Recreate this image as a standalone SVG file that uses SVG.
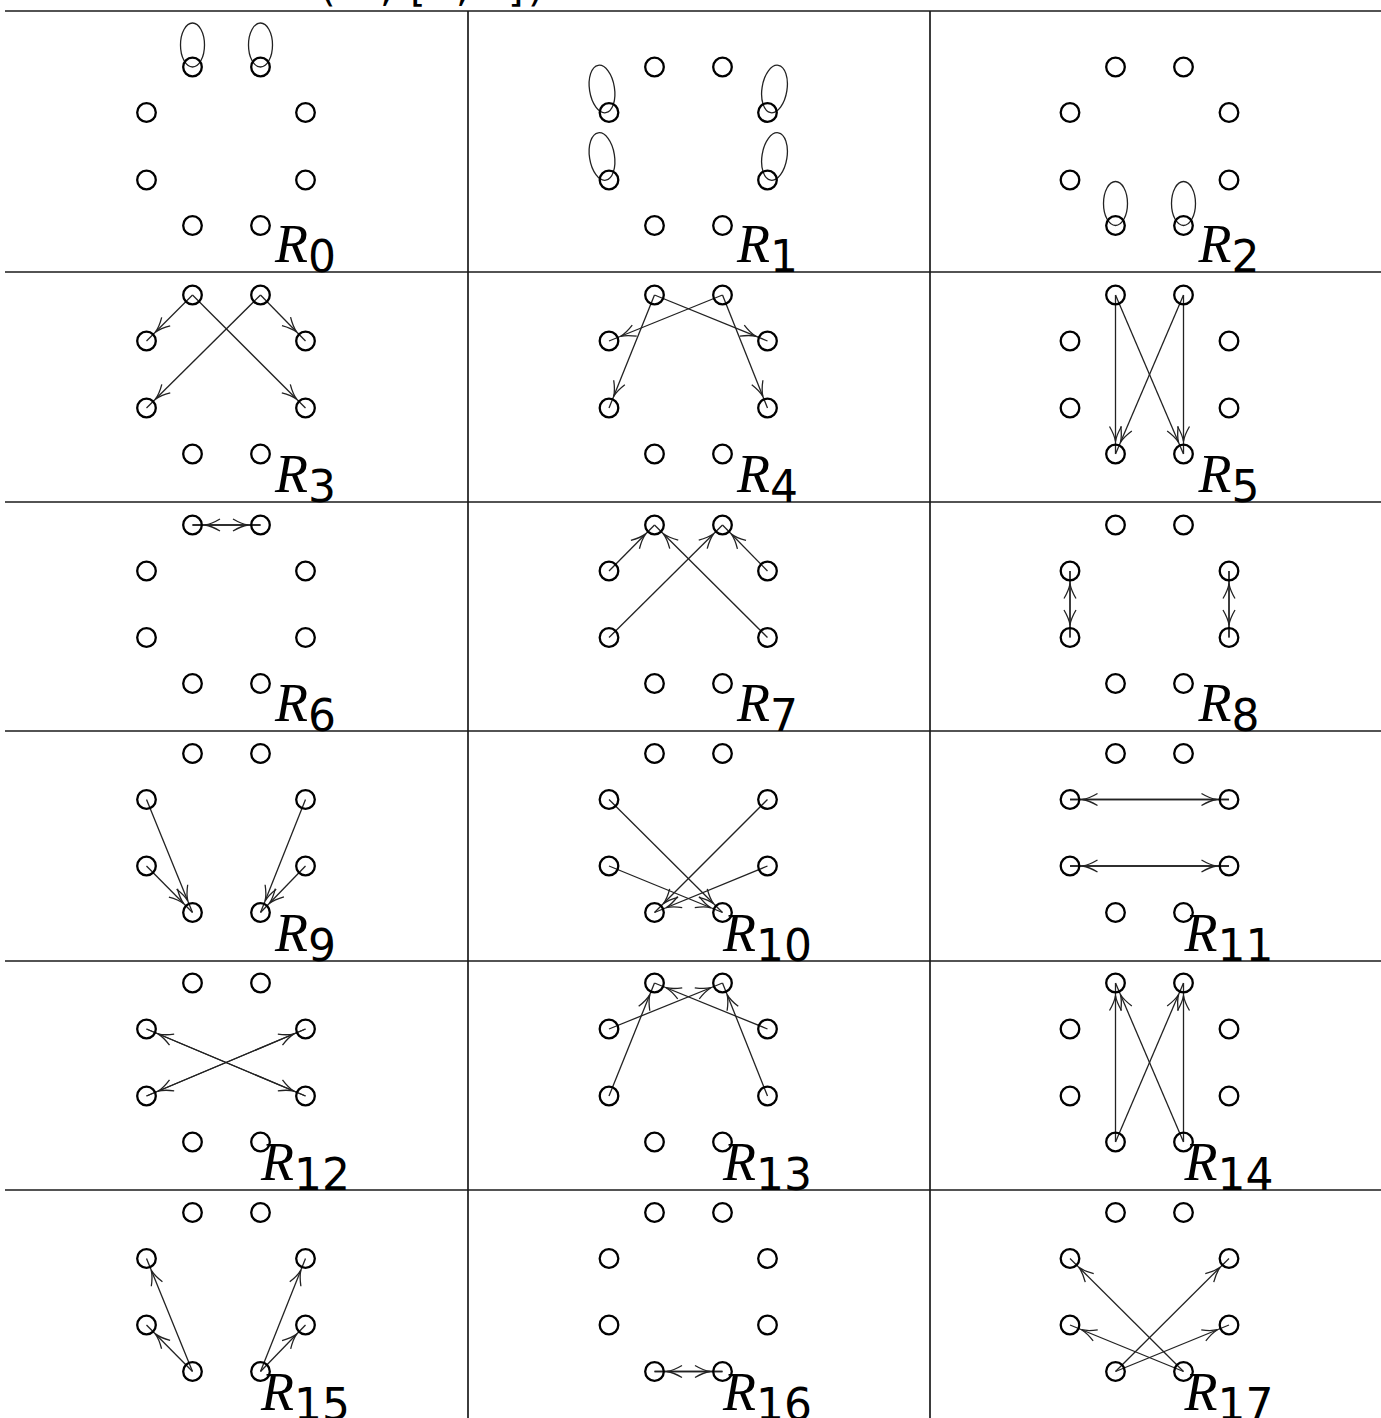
<svg xmlns="http://www.w3.org/2000/svg" width="1381" height="1418" viewBox="0 0 1381 1418">
<style>
.grid{stroke:#1a1a1a;stroke-width:1.7;fill:none}
.nd{fill:none;stroke:#000;stroke-width:2.3}
.lp{fill:none;stroke:#222;stroke-width:1.3}
.e{stroke:#222;stroke-width:1.3;fill:none;marker-end:url(#ah)}
.lbl{font-size:54px;fill:#000}
.r{font-family:"Liberation Serif",serif;font-style:italic}
.s{font-family:"DejaVu Sans",sans-serif;font-size:44px}
.ttl{font-family:"DejaVu Sans",sans-serif;font-size:40px;fill:#000}
</style>
<defs>
<marker id="ah" markerUnits="userSpaceOnUse" orient="auto" markerWidth="40" markerHeight="20" refX="30" refY="10">
<path d="M2.5,4 Q11,9 17.5,10 Q11,11 2.5,16" fill="none" stroke="#222" stroke-width="1.3"/>
</marker>
</defs>
<rect width="1381" height="1418" fill="#fff"/>
<text class="ttl" y="0.5"><tspan x="320">(</tspan><tspan x="380">,</tspan><tspan x="410">[</tspan><tspan x="456">,</tspan><tspan x="508">]</tspan><tspan x="528">)</tspan></text>
<g id="grid">
<line class="grid" x1="5" y1="11" x2="1381" y2="11"/>
<line class="grid" x1="5" y1="272" x2="1381" y2="272"/>
<line class="grid" x1="5" y1="502" x2="1381" y2="502"/>
<line class="grid" x1="5" y1="731" x2="1381" y2="731"/>
<line class="grid" x1="5" y1="961" x2="1381" y2="961"/>
<line class="grid" x1="5" y1="1190" x2="1381" y2="1190"/>
<line class="grid" x1="468" y1="11" x2="468" y2="1418"/>
<line class="grid" x1="930" y1="11" x2="930" y2="1418"/>
</g>
<g id="loops">
<ellipse class="lp" cx="192.5" cy="45" rx="12" ry="22"/>
<ellipse class="lp" cx="260.5" cy="45" rx="12" ry="22"/>
<ellipse class="lp" cx="602" cy="89" rx="12.5" ry="24" transform="rotate(-9 602 89)"/>
<ellipse class="lp" cx="602" cy="156.5" rx="12.5" ry="24" transform="rotate(-9 602 156.5)"/>
<ellipse class="lp" cx="774.5" cy="89" rx="12.5" ry="24" transform="rotate(9 774.5 89)"/>
<ellipse class="lp" cx="774.5" cy="156.5" rx="12.5" ry="24" transform="rotate(9 774.5 156.5)"/>
<ellipse class="lp" cx="1115.5" cy="203.5" rx="12" ry="22"/>
<ellipse class="lp" cx="1183.5" cy="203.5" rx="12" ry="22"/>
</g>
<g id="connectors">
<line class="e" x1="192.5" y1="295" x2="146.5" y2="341"/>
<line class="e" x1="192.5" y1="295" x2="305.5" y2="408"/>
<line class="e" x1="260.5" y1="295" x2="305.5" y2="341"/>
<line class="e" x1="260.5" y1="295" x2="146.5" y2="408"/>
<line class="e" x1="654.5" y1="295" x2="609" y2="408"/>
<line class="e" x1="654.5" y1="295" x2="767.5" y2="341"/>
<line class="e" x1="722.5" y1="295" x2="609" y2="341"/>
<line class="e" x1="722.5" y1="295" x2="767.5" y2="408"/>
<line class="e" x1="1115.5" y1="295" x2="1115.5" y2="454"/>
<line class="e" x1="1115.5" y1="295" x2="1183.5" y2="454"/>
<line class="e" x1="1183.5" y1="295" x2="1115.5" y2="454"/>
<line class="e" x1="1183.5" y1="295" x2="1183.5" y2="454"/>
<line class="e" x1="192.5" y1="525" x2="260.5" y2="525"/>
<line class="e" x1="260.5" y1="525" x2="192.5" y2="525"/>
<line class="e" x1="609" y1="571" x2="654.5" y2="525"/>
<line class="e" x1="767.5" y1="637.5" x2="654.5" y2="525"/>
<line class="e" x1="609" y1="637.5" x2="722.5" y2="525"/>
<line class="e" x1="767.5" y1="571" x2="722.5" y2="525"/>
<line class="e" x1="1070" y1="571" x2="1070" y2="637.5"/>
<line class="e" x1="1070" y1="637.5" x2="1070" y2="571"/>
<line class="e" x1="1229" y1="571" x2="1229" y2="637.5"/>
<line class="e" x1="1229" y1="637.5" x2="1229" y2="571"/>
<line class="e" x1="146.5" y1="799.5" x2="192.5" y2="912.5"/>
<line class="e" x1="146.5" y1="866" x2="192.5" y2="912.5"/>
<line class="e" x1="305.5" y1="799.5" x2="260.5" y2="912.5"/>
<line class="e" x1="305.5" y1="866" x2="260.5" y2="912.5"/>
<line class="e" x1="609" y1="799.5" x2="722.5" y2="912.5"/>
<line class="e" x1="609" y1="866" x2="722.5" y2="912.5"/>
<line class="e" x1="767.5" y1="799.5" x2="654.5" y2="912.5"/>
<line class="e" x1="767.5" y1="866" x2="654.5" y2="912.5"/>
<line class="e" x1="1070" y1="799.5" x2="1229" y2="799.5"/>
<line class="e" x1="1229" y1="799.5" x2="1070" y2="799.5"/>
<line class="e" x1="1070" y1="866" x2="1229" y2="866"/>
<line class="e" x1="1229" y1="866" x2="1070" y2="866"/>
<line class="e" x1="146.5" y1="1029" x2="305.5" y2="1096"/>
<line class="e" x1="305.5" y1="1096" x2="146.5" y2="1029"/>
<line class="e" x1="146.5" y1="1096" x2="305.5" y2="1029"/>
<line class="e" x1="305.5" y1="1029" x2="146.5" y2="1096"/>
<line class="e" x1="609" y1="1029" x2="722.5" y2="983"/>
<line class="e" x1="767.5" y1="1029" x2="654.5" y2="983"/>
<line class="e" x1="609" y1="1096" x2="654.5" y2="983"/>
<line class="e" x1="767.5" y1="1096" x2="722.5" y2="983"/>
<line class="e" x1="1115.5" y1="1142" x2="1115.5" y2="983"/>
<line class="e" x1="1115.5" y1="1142" x2="1183.5" y2="983"/>
<line class="e" x1="1183.5" y1="1142" x2="1115.5" y2="983"/>
<line class="e" x1="1183.5" y1="1142" x2="1183.5" y2="983"/>
<line class="e" x1="192.5" y1="1371.5" x2="146.5" y2="1258.5"/>
<line class="e" x1="192.5" y1="1371.5" x2="146.5" y2="1325"/>
<line class="e" x1="260.5" y1="1371.5" x2="305.5" y2="1258.5"/>
<line class="e" x1="260.5" y1="1371.5" x2="305.5" y2="1325"/>
<line class="e" x1="654.5" y1="1371.5" x2="722.5" y2="1371.5"/>
<line class="e" x1="722.5" y1="1371.5" x2="654.5" y2="1371.5"/>
<line class="e" x1="1115.5" y1="1371.5" x2="1229" y2="1258.5"/>
<line class="e" x1="1115.5" y1="1371.5" x2="1229" y2="1325"/>
<line class="e" x1="1183.5" y1="1371.5" x2="1070" y2="1258.5"/>
<line class="e" x1="1183.5" y1="1371.5" x2="1070" y2="1325"/>
</g>
<g id="nodes">
<g id="c0-t1"><circle class="nd" cx="192.5" cy="67" r="9.3"/></g><g id="c0-t2"><circle class="nd" cx="260.5" cy="67" r="9.3"/></g><g id="c0-l1"><circle class="nd" cx="146.5" cy="112.5" r="9.3"/></g><g id="c0-r1"><circle class="nd" cx="305.5" cy="112.5" r="9.3"/></g><g id="c0-l2"><circle class="nd" cx="146.5" cy="180" r="9.3"/></g><g id="c0-r2"><circle class="nd" cx="305.5" cy="180" r="9.3"/></g><g id="c0-b1"><circle class="nd" cx="192.5" cy="225.5" r="9.3"/></g><g id="c0-b2"><circle class="nd" cx="260.5" cy="225.5" r="9.3"/></g>
<g id="c1-t1"><circle class="nd" cx="654.5" cy="67" r="9.3"/></g><g id="c1-t2"><circle class="nd" cx="722.5" cy="67" r="9.3"/></g><g id="c1-l1"><circle class="nd" cx="609" cy="112.5" r="9.3"/></g><g id="c1-r1"><circle class="nd" cx="767.5" cy="112.5" r="9.3"/></g><g id="c1-l2"><circle class="nd" cx="609" cy="180" r="9.3"/></g><g id="c1-r2"><circle class="nd" cx="767.5" cy="180" r="9.3"/></g><g id="c1-b1"><circle class="nd" cx="654.5" cy="225.5" r="9.3"/></g><g id="c1-b2"><circle class="nd" cx="722.5" cy="225.5" r="9.3"/></g>
<g id="c2-t1"><circle class="nd" cx="1115.5" cy="67" r="9.3"/></g><g id="c2-t2"><circle class="nd" cx="1183.5" cy="67" r="9.3"/></g><g id="c2-l1"><circle class="nd" cx="1070" cy="112.5" r="9.3"/></g><g id="c2-r1"><circle class="nd" cx="1229" cy="112.5" r="9.3"/></g><g id="c2-l2"><circle class="nd" cx="1070" cy="180" r="9.3"/></g><g id="c2-r2"><circle class="nd" cx="1229" cy="180" r="9.3"/></g><g id="c2-b1"><circle class="nd" cx="1115.5" cy="225.5" r="9.3"/></g><g id="c2-b2"><circle class="nd" cx="1183.5" cy="225.5" r="9.3"/></g>
<g id="c3-t1"><circle class="nd" cx="192.5" cy="295" r="9.3"/></g><g id="c3-t2"><circle class="nd" cx="260.5" cy="295" r="9.3"/></g><g id="c3-l1"><circle class="nd" cx="146.5" cy="341" r="9.3"/></g><g id="c3-r1"><circle class="nd" cx="305.5" cy="341" r="9.3"/></g><g id="c3-l2"><circle class="nd" cx="146.5" cy="408" r="9.3"/></g><g id="c3-r2"><circle class="nd" cx="305.5" cy="408" r="9.3"/></g><g id="c3-b1"><circle class="nd" cx="192.5" cy="454" r="9.3"/></g><g id="c3-b2"><circle class="nd" cx="260.5" cy="454" r="9.3"/></g>
<g id="c4-t1"><circle class="nd" cx="654.5" cy="295" r="9.3"/></g><g id="c4-t2"><circle class="nd" cx="722.5" cy="295" r="9.3"/></g><g id="c4-l1"><circle class="nd" cx="609" cy="341" r="9.3"/></g><g id="c4-r1"><circle class="nd" cx="767.5" cy="341" r="9.3"/></g><g id="c4-l2"><circle class="nd" cx="609" cy="408" r="9.3"/></g><g id="c4-r2"><circle class="nd" cx="767.5" cy="408" r="9.3"/></g><g id="c4-b1"><circle class="nd" cx="654.5" cy="454" r="9.3"/></g><g id="c4-b2"><circle class="nd" cx="722.5" cy="454" r="9.3"/></g>
<g id="c5-t1"><circle class="nd" cx="1115.5" cy="295" r="9.3"/></g><g id="c5-t2"><circle class="nd" cx="1183.5" cy="295" r="9.3"/></g><g id="c5-l1"><circle class="nd" cx="1070" cy="341" r="9.3"/></g><g id="c5-r1"><circle class="nd" cx="1229" cy="341" r="9.3"/></g><g id="c5-l2"><circle class="nd" cx="1070" cy="408" r="9.3"/></g><g id="c5-r2"><circle class="nd" cx="1229" cy="408" r="9.3"/></g><g id="c5-b1"><circle class="nd" cx="1115.5" cy="454" r="9.3"/></g><g id="c5-b2"><circle class="nd" cx="1183.5" cy="454" r="9.3"/></g>
<g id="c6-t1"><circle class="nd" cx="192.5" cy="525" r="9.3"/></g><g id="c6-t2"><circle class="nd" cx="260.5" cy="525" r="9.3"/></g><g id="c6-l1"><circle class="nd" cx="146.5" cy="571" r="9.3"/></g><g id="c6-r1"><circle class="nd" cx="305.5" cy="571" r="9.3"/></g><g id="c6-l2"><circle class="nd" cx="146.5" cy="637.5" r="9.3"/></g><g id="c6-r2"><circle class="nd" cx="305.5" cy="637.5" r="9.3"/></g><g id="c6-b1"><circle class="nd" cx="192.5" cy="683.5" r="9.3"/></g><g id="c6-b2"><circle class="nd" cx="260.5" cy="683.5" r="9.3"/></g>
<g id="c7-t1"><circle class="nd" cx="654.5" cy="525" r="9.3"/></g><g id="c7-t2"><circle class="nd" cx="722.5" cy="525" r="9.3"/></g><g id="c7-l1"><circle class="nd" cx="609" cy="571" r="9.3"/></g><g id="c7-r1"><circle class="nd" cx="767.5" cy="571" r="9.3"/></g><g id="c7-l2"><circle class="nd" cx="609" cy="637.5" r="9.3"/></g><g id="c7-r2"><circle class="nd" cx="767.5" cy="637.5" r="9.3"/></g><g id="c7-b1"><circle class="nd" cx="654.5" cy="683.5" r="9.3"/></g><g id="c7-b2"><circle class="nd" cx="722.5" cy="683.5" r="9.3"/></g>
<g id="c8-t1"><circle class="nd" cx="1115.5" cy="525" r="9.3"/></g><g id="c8-t2"><circle class="nd" cx="1183.5" cy="525" r="9.3"/></g><g id="c8-l1"><circle class="nd" cx="1070" cy="571" r="9.3"/></g><g id="c8-r1"><circle class="nd" cx="1229" cy="571" r="9.3"/></g><g id="c8-l2"><circle class="nd" cx="1070" cy="637.5" r="9.3"/></g><g id="c8-r2"><circle class="nd" cx="1229" cy="637.5" r="9.3"/></g><g id="c8-b1"><circle class="nd" cx="1115.5" cy="683.5" r="9.3"/></g><g id="c8-b2"><circle class="nd" cx="1183.5" cy="683.5" r="9.3"/></g>
<g id="c9-t1"><circle class="nd" cx="192.5" cy="753.5" r="9.3"/></g><g id="c9-t2"><circle class="nd" cx="260.5" cy="753.5" r="9.3"/></g><g id="c9-l1"><circle class="nd" cx="146.5" cy="799.5" r="9.3"/></g><g id="c9-r1"><circle class="nd" cx="305.5" cy="799.5" r="9.3"/></g><g id="c9-l2"><circle class="nd" cx="146.5" cy="866" r="9.3"/></g><g id="c9-r2"><circle class="nd" cx="305.5" cy="866" r="9.3"/></g><g id="c9-b1"><circle class="nd" cx="192.5" cy="912.5" r="9.3"/></g><g id="c9-b2"><circle class="nd" cx="260.5" cy="912.5" r="9.3"/></g>
<g id="c10-t1"><circle class="nd" cx="654.5" cy="753.5" r="9.3"/></g><g id="c10-t2"><circle class="nd" cx="722.5" cy="753.5" r="9.3"/></g><g id="c10-l1"><circle class="nd" cx="609" cy="799.5" r="9.3"/></g><g id="c10-r1"><circle class="nd" cx="767.5" cy="799.5" r="9.3"/></g><g id="c10-l2"><circle class="nd" cx="609" cy="866" r="9.3"/></g><g id="c10-r2"><circle class="nd" cx="767.5" cy="866" r="9.3"/></g><g id="c10-b1"><circle class="nd" cx="654.5" cy="912.5" r="9.3"/></g><g id="c10-b2"><circle class="nd" cx="722.5" cy="912.5" r="9.3"/></g>
<g id="c11-t1"><circle class="nd" cx="1115.5" cy="753.5" r="9.3"/></g><g id="c11-t2"><circle class="nd" cx="1183.5" cy="753.5" r="9.3"/></g><g id="c11-l1"><circle class="nd" cx="1070" cy="799.5" r="9.3"/></g><g id="c11-r1"><circle class="nd" cx="1229" cy="799.5" r="9.3"/></g><g id="c11-l2"><circle class="nd" cx="1070" cy="866" r="9.3"/></g><g id="c11-r2"><circle class="nd" cx="1229" cy="866" r="9.3"/></g><g id="c11-b1"><circle class="nd" cx="1115.5" cy="912.5" r="9.3"/></g><g id="c11-b2"><circle class="nd" cx="1183.5" cy="912.5" r="9.3"/></g>
<g id="c12-t1"><circle class="nd" cx="192.5" cy="983" r="9.3"/></g><g id="c12-t2"><circle class="nd" cx="260.5" cy="983" r="9.3"/></g><g id="c12-l1"><circle class="nd" cx="146.5" cy="1029" r="9.3"/></g><g id="c12-r1"><circle class="nd" cx="305.5" cy="1029" r="9.3"/></g><g id="c12-l2"><circle class="nd" cx="146.5" cy="1096" r="9.3"/></g><g id="c12-r2"><circle class="nd" cx="305.5" cy="1096" r="9.3"/></g><g id="c12-b1"><circle class="nd" cx="192.5" cy="1142" r="9.3"/></g><g id="c12-b2"><circle class="nd" cx="260.5" cy="1142" r="9.3"/></g>
<g id="c13-t1"><circle class="nd" cx="654.5" cy="983" r="9.3"/></g><g id="c13-t2"><circle class="nd" cx="722.5" cy="983" r="9.3"/></g><g id="c13-l1"><circle class="nd" cx="609" cy="1029" r="9.3"/></g><g id="c13-r1"><circle class="nd" cx="767.5" cy="1029" r="9.3"/></g><g id="c13-l2"><circle class="nd" cx="609" cy="1096" r="9.3"/></g><g id="c13-r2"><circle class="nd" cx="767.5" cy="1096" r="9.3"/></g><g id="c13-b1"><circle class="nd" cx="654.5" cy="1142" r="9.3"/></g><g id="c13-b2"><circle class="nd" cx="722.5" cy="1142" r="9.3"/></g>
<g id="c14-t1"><circle class="nd" cx="1115.5" cy="983" r="9.3"/></g><g id="c14-t2"><circle class="nd" cx="1183.5" cy="983" r="9.3"/></g><g id="c14-l1"><circle class="nd" cx="1070" cy="1029" r="9.3"/></g><g id="c14-r1"><circle class="nd" cx="1229" cy="1029" r="9.3"/></g><g id="c14-l2"><circle class="nd" cx="1070" cy="1096" r="9.3"/></g><g id="c14-r2"><circle class="nd" cx="1229" cy="1096" r="9.3"/></g><g id="c14-b1"><circle class="nd" cx="1115.5" cy="1142" r="9.3"/></g><g id="c14-b2"><circle class="nd" cx="1183.5" cy="1142" r="9.3"/></g>
<g id="c15-t1"><circle class="nd" cx="192.5" cy="1212.5" r="9.3"/></g><g id="c15-t2"><circle class="nd" cx="260.5" cy="1212.5" r="9.3"/></g><g id="c15-l1"><circle class="nd" cx="146.5" cy="1258.5" r="9.3"/></g><g id="c15-r1"><circle class="nd" cx="305.5" cy="1258.5" r="9.3"/></g><g id="c15-l2"><circle class="nd" cx="146.5" cy="1325" r="9.3"/></g><g id="c15-r2"><circle class="nd" cx="305.5" cy="1325" r="9.3"/></g><g id="c15-b1"><circle class="nd" cx="192.5" cy="1371.5" r="9.3"/></g><g id="c15-b2"><circle class="nd" cx="260.5" cy="1371.5" r="9.3"/></g>
<g id="c16-t1"><circle class="nd" cx="654.5" cy="1212.5" r="9.3"/></g><g id="c16-t2"><circle class="nd" cx="722.5" cy="1212.5" r="9.3"/></g><g id="c16-l1"><circle class="nd" cx="609" cy="1258.5" r="9.3"/></g><g id="c16-r1"><circle class="nd" cx="767.5" cy="1258.5" r="9.3"/></g><g id="c16-l2"><circle class="nd" cx="609" cy="1325" r="9.3"/></g><g id="c16-r2"><circle class="nd" cx="767.5" cy="1325" r="9.3"/></g><g id="c16-b1"><circle class="nd" cx="654.5" cy="1371.5" r="9.3"/></g><g id="c16-b2"><circle class="nd" cx="722.5" cy="1371.5" r="9.3"/></g>
<g id="c17-t1"><circle class="nd" cx="1115.5" cy="1212.5" r="9.3"/></g><g id="c17-t2"><circle class="nd" cx="1183.5" cy="1212.5" r="9.3"/></g><g id="c17-l1"><circle class="nd" cx="1070" cy="1258.5" r="9.3"/></g><g id="c17-r1"><circle class="nd" cx="1229" cy="1258.5" r="9.3"/></g><g id="c17-l2"><circle class="nd" cx="1070" cy="1325" r="9.3"/></g><g id="c17-r2"><circle class="nd" cx="1229" cy="1325" r="9.3"/></g><g id="c17-b1"><circle class="nd" cx="1115.5" cy="1371.5" r="9.3"/></g><g id="c17-b2"><circle class="nd" cx="1183.5" cy="1371.5" r="9.3"/></g>
</g>
<g id="labels" text-anchor="middle">
<text class="lbl" x="305.5" y="262"><tspan class="r">R</tspan><tspan class="s" dy="10">0</tspan></text>
<text class="lbl" x="767.5" y="262"><tspan class="r">R</tspan><tspan class="s" dy="10">1</tspan></text>
<text class="lbl" x="1229" y="262"><tspan class="r">R</tspan><tspan class="s" dy="10">2</tspan></text>
<text class="lbl" x="305.5" y="492"><tspan class="r">R</tspan><tspan class="s" dy="10">3</tspan></text>
<text class="lbl" x="767.5" y="492"><tspan class="r">R</tspan><tspan class="s" dy="10">4</tspan></text>
<text class="lbl" x="1229" y="492"><tspan class="r">R</tspan><tspan class="s" dy="10">5</tspan></text>
<text class="lbl" x="305.5" y="721"><tspan class="r">R</tspan><tspan class="s" dy="10">6</tspan></text>
<text class="lbl" x="767.5" y="721"><tspan class="r">R</tspan><tspan class="s" dy="10">7</tspan></text>
<text class="lbl" x="1229" y="721"><tspan class="r">R</tspan><tspan class="s" dy="10">8</tspan></text>
<text class="lbl" x="305.5" y="951"><tspan class="r">R</tspan><tspan class="s" dy="10">9</tspan></text>
<text class="lbl" x="767.5" y="951"><tspan class="r">R</tspan><tspan class="s" dy="10">10</tspan></text>
<text class="lbl" x="1229" y="951"><tspan class="r">R</tspan><tspan class="s" dy="10">11</tspan></text>
<text class="lbl" x="305.5" y="1180"><tspan class="r">R</tspan><tspan class="s" dy="10">12</tspan></text>
<text class="lbl" x="767.5" y="1180"><tspan class="r">R</tspan><tspan class="s" dy="10">13</tspan></text>
<text class="lbl" x="1229" y="1180"><tspan class="r">R</tspan><tspan class="s" dy="10">14</tspan></text>
<text class="lbl" x="305.5" y="1410"><tspan class="r">R</tspan><tspan class="s" dy="10">15</tspan></text>
<text class="lbl" x="767.5" y="1410"><tspan class="r">R</tspan><tspan class="s" dy="10">16</tspan></text>
<text class="lbl" x="1229" y="1410"><tspan class="r">R</tspan><tspan class="s" dy="10">17</tspan></text>
</g>
</svg>
